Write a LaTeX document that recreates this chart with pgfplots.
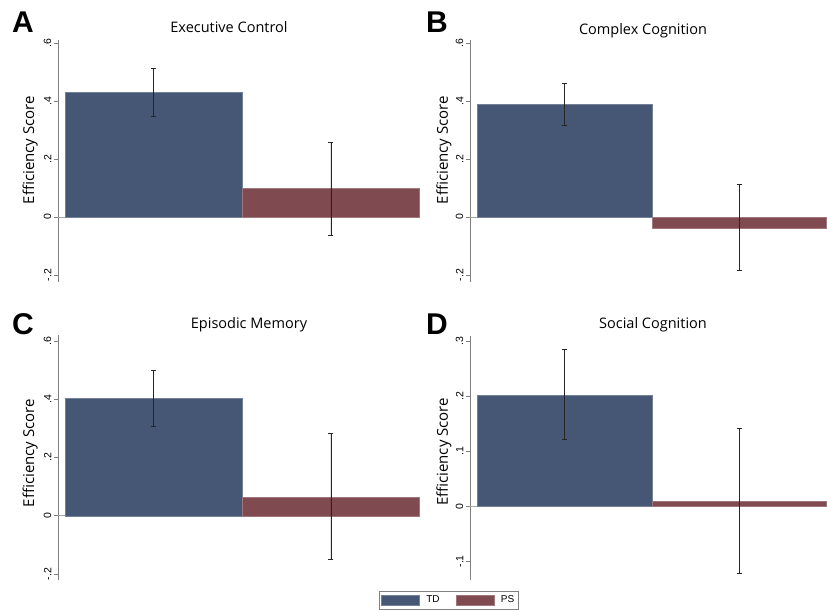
\documentclass[border=0pt]{standalone}
\usepackage{fontspec}
\setmainfont{Liberation Sans}
\newfontfamily\titlefont{Open Sans}
\usepackage{pgfplots}
\pgfplotsset{compat=1.18}
\definecolor{tdblue}{HTML}{465675}
\definecolor{psred}{HTML}{7F4A50}
\definecolor{axgray}{HTML}{808080}
\pgfplotsset{
  panel/.style={
    scale only axis,
    xmin=0, xmax=1,
    axis y line*=left, axis x line=none,
    axis line style={axgray, line width=0.7pt},
    tick style={axgray, line width=0.7pt},
    tick align=outside, major tick length=4pt,
    yticklabel style={rotate=90, anchor=south, font=\fontsize{10.5}{11}\selectfont, inner sep=2.5pt},
    ylabel={Efficiency Score},
    ylabel style={font=\titlefont\fontsize{15}{17}\selectfont, anchor=center},
    error bars/error bar style={black!85, line width=0.8pt},
    error bars/error mark options={black!85, line width=0.8pt, mark size=2.5pt, rotate=90},
  },
  tdbar/.style={ybar, bar width=0.49, bar shift=0pt, fill=tdblue, draw=tdblue!75!white, line width=0.4pt,
     error bars/.cd, y dir=both, y explicit},
  psbar/.style={ybar, bar width=0.49, bar shift=0pt, fill=psred, draw=psred!75!white, line width=0.4pt,
     error bars/.cd, y dir=both, y explicit},
  zline/.style={gray!70, line width=0.5pt, forget plot},
}
\begin{document}
\begin{tikzpicture}
\useasboundingbox (0pt,0pt) rectangle (827pt,-610pt);
% Panel A
\begin{axis}[panel, at={(58pt,-282pt)}, anchor=south west, width=362pt, height=242pt,
  ymin=-0.224, ymax=0.610, ytick={-0.2,0,0.2,0.4,0.6}, yticklabels={-.2,0,.2,.4,.6},
  ylabel style={at={(axis description cs:-0.077,0.545)}}]
\addplot[zline] coordinates {(0,0) (1,0)};
\addplot[tdbar] coordinates {(0.264,0.429) += (0,0.084) -= (0,0.083)};
\addplot[psbar] coordinates {(0.754,0.098) += (0,0.160) -= (0,0.161)};
\end{axis}
% Panel B
\begin{axis}[panel, at={(470pt,-282pt)}, anchor=south west, width=357pt, height=242pt,
  ymin=-0.224, ymax=0.610, ytick={-0.2,0,0.2,0.4,0.6}, yticklabels={-.2,0,.2,.4,.6},
  ylabel style={at={(axis description cs:-0.073,0.545)}}]
\addplot[zline] coordinates {(0,0) (1,0)};
\addplot[tdbar] coordinates {(0.264,0.389) += (0,0.072) -= (0,0.075)};
\addplot[psbar] coordinates {(0.754,-0.037) += (0,0.151) -= (0,0.148)};
\end{axis}
% Panel C
\begin{axis}[panel, at={(58pt,-580pt)}, anchor=south west, width=362pt, height=245pt,
  ymin=-0.221, ymax=0.621, ytick={-0.2,0,0.2,0.4,0.6}, yticklabels={-.2,0,.2,.4,.6},
  ylabel style={at={(axis description cs:-0.077,0.518)}},
  legend style={at={(axis description cs:1.079,-0.082)}, anchor=center, draw=axgray,
    font=\fontsize{10}{11}\selectfont, legend columns=2, inner xsep=2pt, inner ysep=2.5pt,
    /tikz/every odd column/.append style={column sep=5pt},
    /tikz/every even column/.append style={column sep=14pt}},
  legend image code/.code={\fill[#1] (0pt,-5pt) rectangle (38pt,5pt);}]
\addplot[zline] coordinates {(0,0) (1,0)};
\addplot[tdbar] coordinates {(0.264,0.404) += (0,0.094) -= (0,0.096)};
\addlegendentry{TD}
\addplot[psbar] coordinates {(0.754,0.065) += (0,0.218) -= (0,0.215)};
\addlegendentry{PS}
\end{axis}
% Panel D
\begin{axis}[panel, at={(470pt,-580pt)}, anchor=south west, width=357pt, height=244pt,
  ymin=-0.134, ymax=0.310, ytick={-0.1,0,0.1,0.2,0.3}, yticklabels={-.1,0,.1,.2,.3},
  ylabel style={at={(axis description cs:-0.073,0.525)}}]
\addplot[zline] coordinates {(0,0) (1,0)};
\addplot[tdbar] coordinates {(0.264,0.203) += (0,0.083) -= (0,0.082)};
\addplot[psbar] coordinates {(0.754,0.010) += (0,0.132) -= (0,0.132)};
\end{axis}
% titles
\node[font=\titlefont\fontsize{14.5}{16}\selectfont] at (229pt,-27pt) {Executive Control};
\node[font=\titlefont\fontsize{14.5}{16}\selectfont] at (643pt,-31pt) {Complex Cognition};
\node[font=\titlefont\fontsize{14.5}{16}\selectfont] at (249pt,-325pt) {Episodic Memory};
\node[font=\titlefont\fontsize{14.5}{16}\selectfont] at (653pt,-325pt) {Social Cognition};
% panel letters
\node[font=\bfseries\fontsize{30}{31}\selectfont, anchor=base west, inner sep=0pt] at (12pt,-33pt) {A};
\node[font=\bfseries\fontsize{30}{31}\selectfont, anchor=base west, inner sep=0pt] at (426pt,-33pt) {B};
\node[font=\bfseries\fontsize{30}{31}\selectfont, anchor=base west, inner sep=0pt] at (12pt,-334pt) {C};
\node[font=\bfseries\fontsize{30}{31}\selectfont, anchor=base west, inner sep=0pt] at (426pt,-334pt) {D};
\end{tikzpicture}
\end{document}
